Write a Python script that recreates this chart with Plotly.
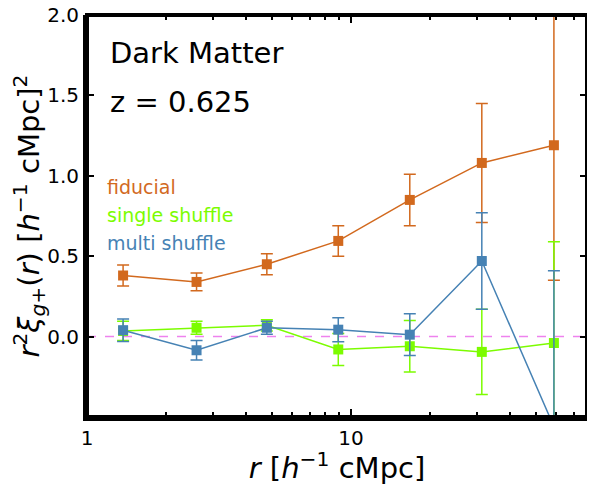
import plotly.graph_objects as go

# separation bins [h^-1 cMpc]
r_bins = [1.37, 2.6, 4.8, 8.95, 16.7, 31.3, 58.7]

# r^2 xi_g+ for each catalogue, with 1-sigma errors
fiducial = [0.38, 0.34, 0.45, 0.595, 0.85, 1.08, 1.19]
fiducial_err = [0.065, 0.055, 0.065, 0.095, 0.16, 0.37, 0.84]

single_shuffle = [0.035, 0.055, 0.07, -0.08, -0.06, -0.095, -0.04]
single_shuffle_err = [0.06, 0.04, 0.035, 0.10, 0.16, 0.265, 0.63]

multi_shuffle = [0.04, -0.085, 0.055, 0.043, 0.012, 0.47, -0.56]
multi_shuffle_err = [0.07, 0.06, 0.04, 0.075, 0.13, 0.30, 0.97]

series_names = ["fiducial", "single shuffle", "multi shuffle"]
series_colors = ["#d2691e", "#7cfc00", "#4682b4"]

x_range = [0, 1.894]   # log10
y_range = [-0.5, 2.0]
y_ticks = [0.0, 0.5, 1.0, 1.5, 2.0]
x_major = [1, 10]
x_minor = [2, 3, 4, 5, 6, 7, 8, 9, 20, 30, 40, 50, 60, 70]

FONT = "DejaVu Sans"

fig = go.Figure()

for name, vals, errs, col in zip(
    series_names,
    [fiducial, single_shuffle, multi_shuffle],
    [fiducial_err, single_shuffle_err, multi_shuffle_err],
    series_colors,
):
    fig.add_trace(
        go.Scatter(
            x=r_bins,
            y=vals,
            name=name,
            mode="lines+markers",
            line=dict(color=col, width=1.5),
            marker=dict(symbol="square", size=10, color=col),
            error_y=dict(type="data", array=errs, color=col, thickness=1.5, width=6),
            showlegend=False,
        )
    )

# invisible trace so the top/right tick axes get drawn
fig.add_trace(go.Scatter(x=r_bins[:1], y=fiducial[:1], xaxis="x2", yaxis="y2",
                         mode="markers", marker=dict(opacity=0), hoverinfo="skip",
                         showlegend=False))

# zero reference line
fig.add_shape(
    type="line", xref="paper", x0=0, x1=1, yref="y", y0=0, y1=0,
    line=dict(color="violet", width=1.5, dash="dash"), layer="below",
)

# heavy frame
fig.add_shape(type="rect", xref="paper", yref="paper", x0=0, x1=1, y0=0, y1=1,
              line=dict(color="black", width=4), layer="above")

# panel labels
fig.add_annotation(text="Dark Matter", xref="paper", yref="paper", x=0.042, y=0.905,
                   xanchor="left", yanchor="middle", showarrow=False,
                   font=dict(family=FONT, size=29, color="black"))
fig.add_annotation(text="z = 0.625", xref="paper", yref="paper", x=0.042, y=0.783,
                   xanchor="left", yanchor="middle", showarrow=False,
                   font=dict(family=FONT, size=29, color="black"))

# text-only legend
for i, (name, col) in enumerate(zip(series_names, series_colors)):
    fig.add_annotation(text=name, xref="paper", yref="paper", x=0.036, y=0.573 - i * 0.07,
                       xanchor="left", yanchor="middle", showarrow=False,
                       font=dict(family=FONT, size=19, color=col))

tick_style = dict(ticks="inside", tickwidth=2, tickcolor="black", showgrid=False,
                  zeroline=False, automargin=False)
minor_style = dict(ticks="inside", ticklen=5, tickwidth=2, tickcolor="black", tickvals=x_minor)

fig.update_layout(
    xaxis=dict(
        type="log", range=x_range, tickvals=x_major, ticktext=[str(v) for v in x_major],
        ticklen=8, minor=minor_style, showline=True, linewidth=4, linecolor="black",
        tickfont=dict(family=FONT, size=20, color="black"),
        title=dict(text="<i>r</i> [<i>h</i><sup>−1</sup> cMpc]",
                   font=dict(family=FONT, size=29, color="black"), standoff=3),
        **tick_style,
    ),
    yaxis=dict(
        range=y_range, tickvals=y_ticks, tickformat=".1f", ticklen=7,
        showline=True, linewidth=4, linecolor="black", ticklabeloverflow="allow",
        tickfont=dict(family=FONT, size=20, color="black"),
        title=dict(text="<i>r</i><sup>2</sup><i>ξ</i><sub><i>g</i>+</sub>(<i>r</i>) "
                        "[<i>h</i><sup>−1</sup> cMpc]<sup>2</sup>",
                   font=dict(family=FONT, size=29, color="black"), standoff=12),
        **tick_style,
    ),
    xaxis2=dict(
        type="log", range=x_range, overlaying="x", side="top", anchor="y",
        tickvals=x_major, ticklen=8, minor=minor_style, showticklabels=False,
        showline=False, **tick_style,
    ),
    yaxis2=dict(
        range=y_range, overlaying="y", side="right", anchor="x",
        tickvals=y_ticks, ticklen=7, showticklabels=False, showline=False, **tick_style,
    ),
    # page body adds an 8px offset, so the figure is sized to the remaining window
    width=587,
    height=477,
    margin=dict(l=79, r=8, t=7, b=68),
    plot_bgcolor="white",
    paper_bgcolor="white",
    font=dict(family=FONT, color="black"),
)

fig.write_html("out.html")
